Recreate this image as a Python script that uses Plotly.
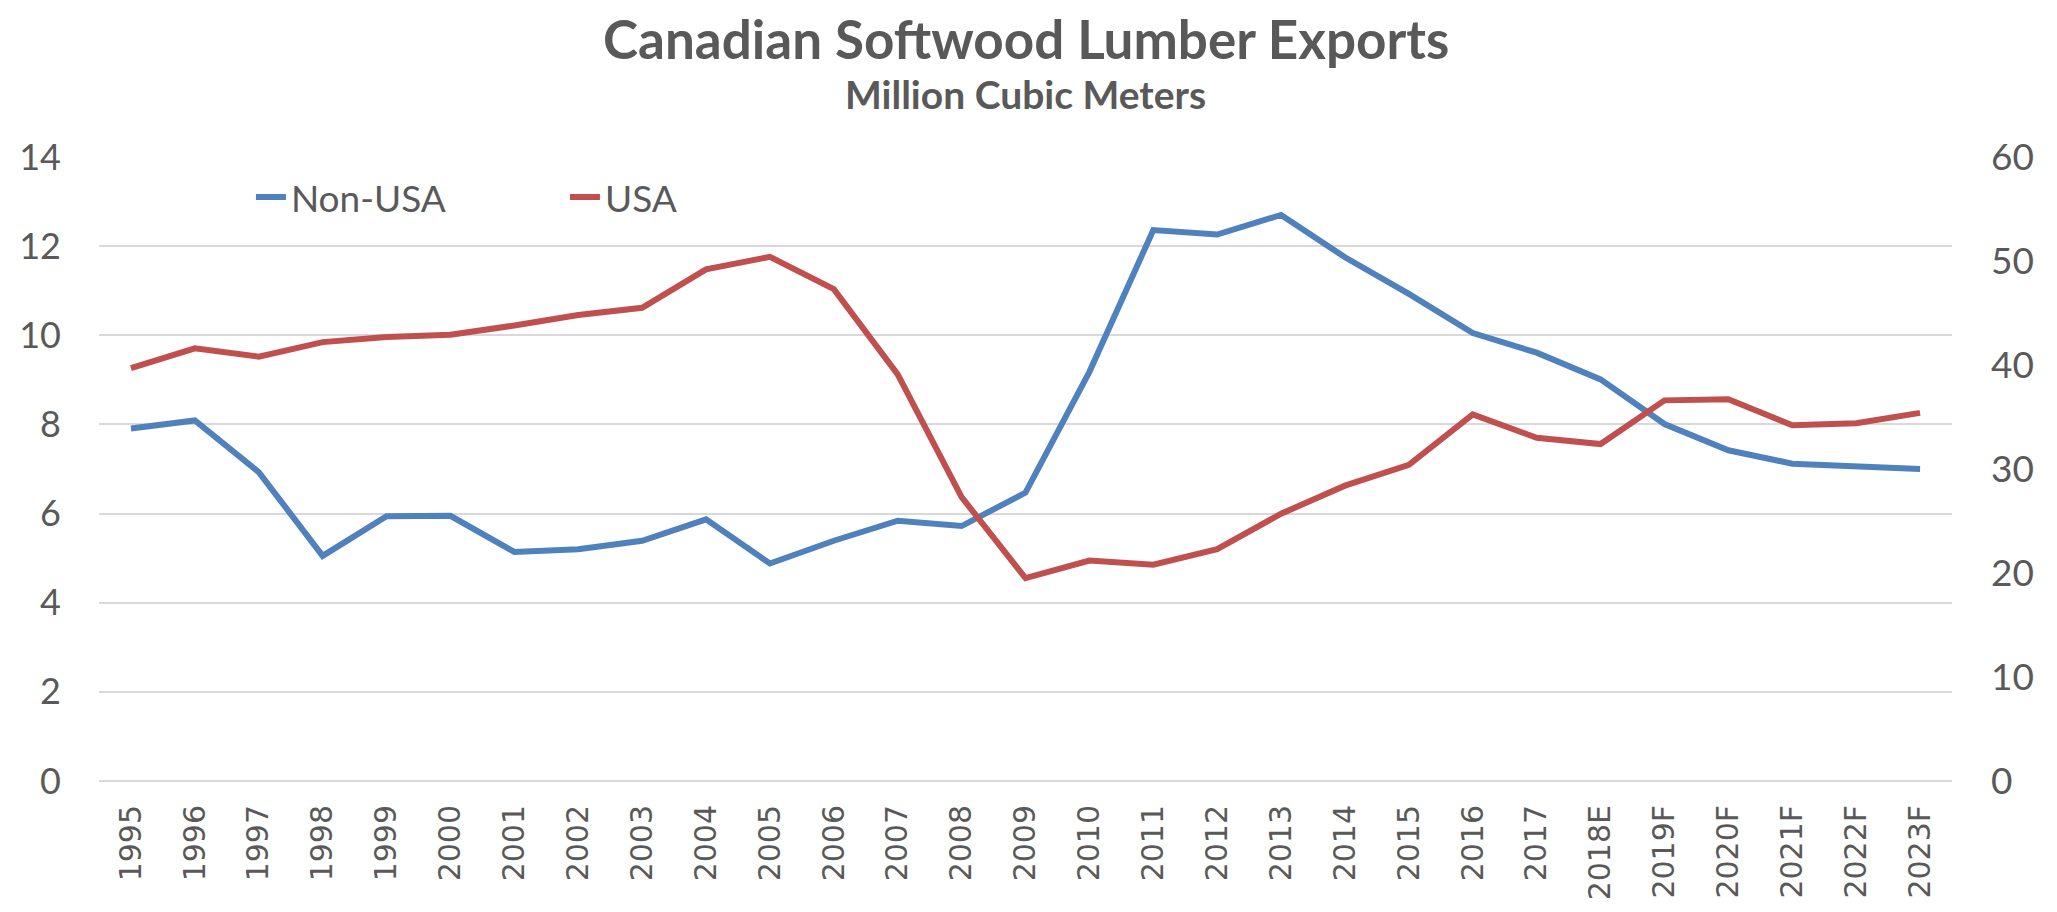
import plotly.graph_objects as go

# categories and series
years = ["1995", "1996", "1997", "1998", "1999", "2000", "2001", "2002", "2003", "2004",
         "2005", "2006", "2007", "2008", "2009", "2010", "2011", "2012", "2013", "2014",
         "2015", "2016", "2017", "2018E", "2019F", "2020F", "2021F", "2022F", "2023F"]
non_usa = [7.91, 8.09, 6.93, 5.05, 5.94, 5.95, 5.14, 5.20, 5.39, 5.87,
           4.88, 5.39, 5.84, 5.72, 6.47, 9.18, 12.36, 12.26, 12.70, 11.75,
           10.93, 10.05, 9.61, 9.01, 8.01, 7.42, 7.12, 7.05, 7.00]
usa = [39.7, 41.6, 40.8, 42.2, 42.7, 42.9, 43.8, 44.8, 45.5, 49.2,
       50.4, 47.3, 39.1, 27.3, 19.5, 21.2, 20.8, 22.3, 25.7, 28.4,
       30.4, 35.25, 33.0, 32.4, 36.6, 36.7, 34.2, 34.4, 35.4]
left_ticks = [0, 2, 4, 6, 8, 10, 12, 14]
right_ticks = [0, 10, 20, 30, 40, 50, 60]

gray = "#595959"
grid = "#d9d9d9"

# page body has an 8px margin, so the figure is a bit smaller than the window
W, H = 2041, 896
top, bottom = 149, 773

fig = go.Figure()
fig.add_trace(go.Scatter(x=years, y=non_usa, name="Non-USA", mode="lines",
                         line=dict(color="#4f81bd", width=6)))
fig.add_trace(go.Scatter(x=years, y=usa, name="USA", mode="lines", yaxis="y2",
                         line=dict(color="#c0504d", width=6)))

fig.update_layout(
    width=W, height=H,
    margin=dict(l=91, r=97, t=top, b=H - bottom),
    paper_bgcolor="white", plot_bgcolor="white",
    font=dict(family="Lato, Open Sans, sans-serif", color=gray),
    showlegend=True,
    legend=dict(orientation="h", x=0.082, xanchor="left", y=0.935, yanchor="middle",
                font=dict(size=37, color=gray), bgcolor="rgba(0,0,0,0)",
                entrywidth=269, entrywidthmode="pixels"),
    xaxis=dict(type="category", range=[-0.5, len(years) - 0.5], tickangle=-90,
               showgrid=False, showline=False, ticks="", ticklabelstandoff=17,
               automargin=False,
               tickfont=dict(family="DejaVu Sans", size=30, color=gray)),
    yaxis=dict(range=[0, 14], tickvals=left_ticks, showgrid=True, gridcolor=grid, gridwidth=2,
               zeroline=True, zerolinecolor=grid, zerolinewidth=2, ticks="",
               automargin=False, ticklabelstandoff=37, tickfont=dict(size=36, color=gray)),
    yaxis2=dict(range=[0, 60], tickvals=right_ticks, overlaying="y", side="right",
                showgrid=False, zeroline=False, ticks="", ticklabelstandoff=38,
                automargin=False, tickfont=dict(size=37, color=gray)),
    annotations=[
        dict(text="Canadian Softwood Lumber Exports", x=0.5, xref="paper",
             y=(bottom - 30) / (bottom - top), yref="paper", yanchor="middle",
             showarrow=False, font=dict(size=53, color=gray, weight="bold")),
        dict(text="Million Cubic Meters", x=0.5, xref="paper",
             y=(bottom - 86) / (bottom - top), yref="paper", yanchor="middle",
             showarrow=False, font=dict(size=39, color=gray, weight="bold")),
    ],
)

fig.write_html("out.html")
